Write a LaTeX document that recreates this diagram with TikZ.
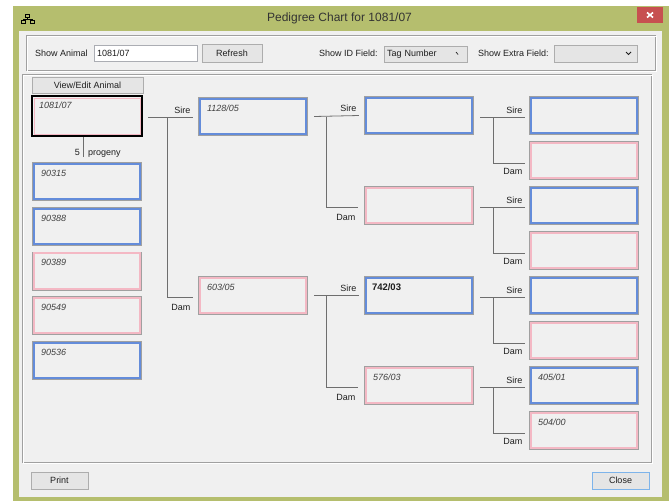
\documentclass[tikz,border=0pt]{standalone}
\usepackage{fontspec}
\setmainfont{Liberation Sans}
\usetikzlibrary{calc}
\definecolor{wingreen}{RGB}{181,190,110}
\definecolor{clientbg}{RGB}{240,240,240}
\definecolor{sireblue}{RGB}{100,140,218}
\definecolor{dampink}{RGB}{244,184,196}
\definecolor{framegray}{RGB}{160,160,160}
\definecolor{linegray}{RGB}{110,110,110}
\definecolor{closered}{RGB}{199,80,80}
\definecolor{btnborder}{RGB}{173,173,173}
\definecolor{btnfill}{RGB}{229,229,229}
\definecolor{focusblue}{RGB}{126,180,234}
\definecolor{fieldborder}{RGB}{171,173,179}
\definecolor{uitext}{RGB}{30,30,30}
\tikzset{
  ui/.style={font=\fontsize{9}{11}\selectfont, text=uitext, inner sep=0pt},
  pbox/.style={rectangle, fill=clientbg, draw=#1, line width=2pt,
    preaction={draw=framegray, line width=3.6pt},
    minimum width=106.4pt, minimum height=35.4pt, inner sep=0pt, outer sep=1pt},
  sirebox/.style={pbox=sireblue},
  dambox/.style={pbox=dampink},
  tagged/.style={label={[ui, font=\fontsize{9}{11}\selectfont\itshape, text=black!75,
    anchor=north west, xshift=8pt, yshift=-7pt]north west:#1}},
  boldtagged/.style={label={[ui, font=\fontsize{9.5}{11}\selectfont\bfseries,
    anchor=north west, xshift=7pt, yshift=-7pt]north west:#1}},
  conn/.style={draw=linegray, line width=0.8pt},
  sirelbl/.style={ui, anchor=base east, xshift=-2pt, yshift=4pt},
  damlbl/.style={ui, anchor=base east, xshift=-2pt, yshift=-#1},
  damlbl/.default=13pt,
  btn/.style={ui, draw=btnborder, fill=btnfill, line width=0.8pt, minimum height=17pt},
  field/.style={ui, draw=fieldborder, line width=0.8pt, minimum height=16pt, align=left, inner xsep=3pt},
}
\begin{document}
\begin{tikzpicture}[x=1pt,y=-1pt]
\useasboundingbox (0,0) rectangle (669,501);
\fill[white] (0,0) rectangle (669,501);
% window
\fill[wingreen] (13,6) rectangle (669,501);
\fill[clientbg] (19,31) rectangle (662,497);
% title bar
\node[ui, font=\fontsize{12}{14}\selectfont, text=black!80] (title) at (339.5,18.5) {Pedigree Chart for 1081/07};
\fill[closered] (637,7) rectangle (663,23);
\draw[white, line width=1.6pt] (647,12.5) -- (653,17.5) (647,17.5) -- (653,12.5);
% window icon
\draw[black, line width=0.8pt] (25.5,14) rectangle (29.5,17.5);
\draw[black, line width=0.8pt] (27.5,17.5) -- (27.5,19) (23,19) -- (32,19) (23,19) -- (23,20) (32,19) -- (32,20);
\draw[black, line width=0.8pt] (21,20) rectangle (25,23.5) (30,20) rectangle (34,23.5);
% top group box
\draw[framegray, line width=0.8pt] (26.5,35.5) rectangle (655.5,70.5);
\draw[white, line width=0.8pt] (27.5,36.5) rectangle (656.5,71.5);
\node[ui, anchor=west] (showanimal) at (35,53) {Show Animal};
\node[field, fill=white, minimum width=103pt, text width=97pt] (animalfield) at (145.5,53) {1081/07};
\node[btn, minimum width=60pt, minimum height=18pt] (refresh) at (232,53) {Refresh};
\node[ui, anchor=west] (showid) at (319,53.5) {Show ID Field:};
\node[field, fill=btnfill, draw=btnborder, minimum width=83pt, text width=77pt] (idcombo) at (425.5,54) {Tag Number};
\draw[uitext, line width=0.7pt] (456,52) -- (458,54.5);
\node[ui, anchor=west] (showextra) at (478,53.5) {Show Extra Field:};
\node[field, fill=btnfill, draw=btnborder, minimum width=83pt, minimum height=17pt] (extracombo) at (595.5,53.5) {};
\draw[uitext, line width=0.8pt] (626,52) -- (628.5,54.5) -- (631,52);
% main panel
\draw[framegray, line width=0.8pt] (22.5,74.5) rectangle (651.5,462.5);
\draw[white, line width=0.8pt] (23.5,75.5) rectangle (652.5,463.5);
% bottom buttons
\node[btn, minimum width=57pt] (print) at (59.5,480.5) {Print};
\node[btn, draw=focusblue, minimum width=57pt] (close) at (620.5,480.5) {Close};
% root animal
\node[btn, minimum width=111pt, minimum height=16pt] (viewedit) at (87.5,85) {View/Edit Animal};
\node[rectangle, fill=clientbg, draw=black, line width=2pt, minimum width=110pt, minimum height=40pt,
  inner sep=0pt, outer sep=1pt, tagged=1081/07] (root) at (87,116) {};
\draw[dampink, line width=1pt] ([xshift=3pt,yshift=-3pt]root.north west) rectangle ([xshift=-3pt,yshift=3pt]root.south east);
% progeny
\draw[conn] ($(root.south)+(-4,0)$) -- ++(0,20) coordinate (progend);
\node[ui, anchor=base east] (nprog) at (80,155) {5};
\node[ui, anchor=base west] (progtxt) at (88,155) {progeny};
\node[sirebox, tagged=90315] (p1) at (87,181.5) {};
\node[sirebox, tagged=90388] (p2) at (87,226.5) {};
\node[dambox, tagged=90389] (p3) at (87,271) {};
\node[dambox, tagged=90549] (p4) at (87,315.5) {};
\node[sirebox, tagged=90536] (p5) at (87,360.5) {};
% generation 1
\node[sirebox, tagged=1128/05] (g1a) at (253,116.5) {};
\node[dambox, tagged=603/05] (g1b) at (253,295.5) {};
% generation 2
\node[sirebox] (g2a) at (419,115.5) {};
\node[dambox] (g2b) at (419,205.5) {};
\node[sirebox, boldtagged=742/03] (g2c) at (419,295.5) {};
\node[dambox, tagged=576/03] (g2d) at (419,385.5) {};
% generation 3
\node[sirebox] (g3a) at (584,115.5) {};
\node[dambox] (g3b) at (584,160.5) {};
\node[sirebox] (g3c) at (584,205.5) {};
\node[dambox] (g3d) at (584,250.5) {};
\node[sirebox] (g3e) at (584,295.5) {};
\node[dambox] (g3f) at (584,340.5) {};
\node[sirebox, tagged=405/01] (g3g) at (584,385.5) {};
\node[dambox, tagged=504/00] (g3h) at (584,430.5) {};
% connectors root -> generation 1
\draw[conn] ($(root.east)+(5,1)$) -- ($(g1a.west)+(-6,0.5)$) node[sirelbl] (l0s) {Sire};
\draw[conn] ($(root.east)+(24,1)$) |- ($(g1b.west)+(-6,1.5)$) node[damlbl] (l0d) {Dam};
% generation 1 -> 2
\foreach \c/\s/\d in {g1a/g2a/g2b, g1b/g2c/g2d}{
  \draw[conn] ($(\c.east)+(7,0)$) -- ($(\s.west)+(-6,0)$) node[sirelbl] {Sire};
  \draw[conn] ($(\c.east)+(19,0)$) |- ($(\d.west)+(-7,1.5)$) node[damlbl] {Dam};
}
% generation 2 -> 3
\foreach \c/\s/\d in {g2a/g3a/g3b, g2b/g3c/g3d, g2c/g3e/g3f, g2d/g3g/g3h}{
  \draw[conn] ($(\c.east)+(7,1.5)$) -- ($(\s.west)+(-5,1.5)$) node[sirelbl] {Sire};
  \draw[conn] ($(\c.east)+(20,1.5)$) |- ($(\d.west)+(-5,2.5)$) node[damlbl=11.5pt] {Dam};
}
\end{tikzpicture}
\end{document}
